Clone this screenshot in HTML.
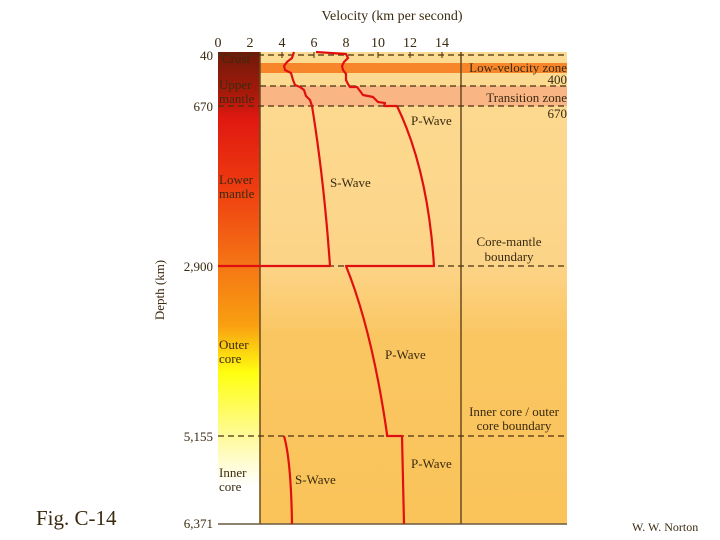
<!DOCTYPE html>
<html><head><style>
html,body{margin:0;padding:0;background:#fff;}
svg{display:block;}
text{font-family:"Liberation Serif",serif;fill:#3a2a10;}
</style></head><body>
<svg width="720" height="540" viewBox="0 0 720 540" xmlns="http://www.w3.org/2000/svg">
<defs>
<linearGradient id="bar" x1="0" y1="52" x2="0" y2="524" gradientUnits="userSpaceOnUse">
<stop offset="0" stop-color="#6e1a0a"/>
<stop offset="0.08" stop-color="#a01a0a"/>
<stop offset="0.14" stop-color="#e01810"/>
<stop offset="0.28" stop-color="#ee3a10"/>
<stop offset="0.45" stop-color="#f57515"/>
<stop offset="0.58" stop-color="#f9a010"/>
<stop offset="0.68" stop-color="#ffff10"/>
<stop offset="0.82" stop-color="#fffaa0"/>
<stop offset="0.92" stop-color="#ffffff"/>
<stop offset="1" stop-color="#ffffff"/>
</linearGradient>
<linearGradient id="bg" x1="0" y1="52" x2="0" y2="524" gradientUnits="userSpaceOnUse">
<stop offset="0" stop-color="#fcdb92"/>
<stop offset="0.45" stop-color="#fcd488"/>
<stop offset="0.6" stop-color="#fac662"/>
<stop offset="1" stop-color="#fac45a"/>
</linearGradient>
</defs>
<text x="392" y="20" font-size="14" text-anchor="middle">Velocity (km per second)</text>
<g font-size="14" text-anchor="middle">
<text x="218" y="47">0</text><text x="250" y="47">2</text><text x="282" y="47">4</text><text x="314" y="47">6</text><text x="346" y="47">8</text><text x="378" y="47">10</text><text x="410" y="47">12</text><text x="442" y="47">14</text>
</g>
<rect x="260" y="52" width="307" height="472" fill="url(#bg)"/>
<rect x="260" y="63" width="307" height="10" fill="#f7852a"/>
<rect x="260" y="86" width="307" height="20" fill="#f9b684"/>
<rect x="218" y="52" width="42" height="472" fill="url(#bar)"/>
<line x1="260" y1="52" x2="260" y2="524" stroke="#6a4a20" stroke-width="1.5"/>
<line x1="461" y1="52" x2="461" y2="524" stroke="#6a4a20" stroke-width="1.5"/>
<line x1="218" y1="524" x2="567" y2="524" stroke="#6a5a40" stroke-width="1.5"/>
<g stroke="#4a3010" stroke-width="1.2" stroke-dasharray="6,4">
<line x1="218" y1="55" x2="567" y2="55"/>
<line x1="260" y1="86" x2="567" y2="86"/>
<line x1="218" y1="106" x2="567" y2="106"/>
<line x1="218" y1="266" x2="567" y2="266"/>
<line x1="218" y1="436" x2="567" y2="436"/>
</g>
<g stroke="#4a3010" stroke-width="1">
<line x1="282" y1="52" x2="282" y2="58"/><line x1="314" y1="52" x2="314" y2="58"/><line x1="378" y1="52" x2="378" y2="58"/><line x1="410" y1="52" x2="410" y2="58"/><line x1="442" y1="52" x2="442" y2="58"/>
</g>
<g font-size="13" text-anchor="end">
<text x="213" y="60">40</text><text x="213" y="111">670</text><text x="213" y="271">2,900</text><text x="213" y="441">5,155</text><text x="213" y="528">6,371</text>
</g>
<text x="164" y="290" font-size="13" text-anchor="middle" transform="rotate(-90 164 290)">Depth (km)</text>
<g font-size="13" fill="#4a1a05">
<text x="222" y="63">Crust</text>
<text x="219" y="89">Upper</text><text x="219" y="103">mantle</text>
<text x="219" y="184">Lower</text><text x="219" y="198">mantle</text>
<text x="219" y="349">Outer</text><text x="219" y="363">core</text>
<text x="219" y="477">Inner</text><text x="219" y="491">core</text>
</g>
<g font-size="13" text-anchor="end">
<text x="567" y="72">Low-velocity zone</text>
<text x="567" y="84">400</text>
<text x="567" y="102">Transition zone</text>
<text x="567" y="118">670</text>
</g>
<g font-size="13" text-anchor="middle">
<text x="509" y="246">Core-mantle</text><text x="509" y="261">boundary</text>
<text x="514" y="416">Inner core / outer</text><text x="514" y="430">core boundary</text>
</g>
<g font-size="13">
<text x="411" y="125">P-Wave</text>
<text x="330" y="187">S-Wave</text>
<text x="385" y="359">P-Wave</text>
<text x="411" y="468">P-Wave</text>
<text x="295" y="484">S-Wave</text>
</g>
<g fill="none" stroke="#e01010" stroke-width="2.2" stroke-linejoin="round">
<path d="M294,52 L292,58 L287,62 L284,66 L285,70 L291,73 L293,80 L295,85 L300,87 L304,90 L306,96 L310,100 L312,106 Q324,180 330,266 L218,266"/>
<path d="M316,52 L346,54 L348,58 L344,62 L342,66 L343,70 L346,74 L346,80 L348,84 L350,87 L357,87 L363,95 L373,97 L378,102 L385,103 L384,106 L397,106 Q428,170 434,266 L346,266 Q372,330 387,434 L387,436 L402,436 L404,524"/>
<path d="M284,436 Q291,460 292,524"/>
</g>
<text x="36" y="525" font-size="21" fill="#000">Fig. C-14</text>
<text x="632" y="531" font-size="12" fill="#000">W. W. Norton</text>
</svg>
</body></html>
